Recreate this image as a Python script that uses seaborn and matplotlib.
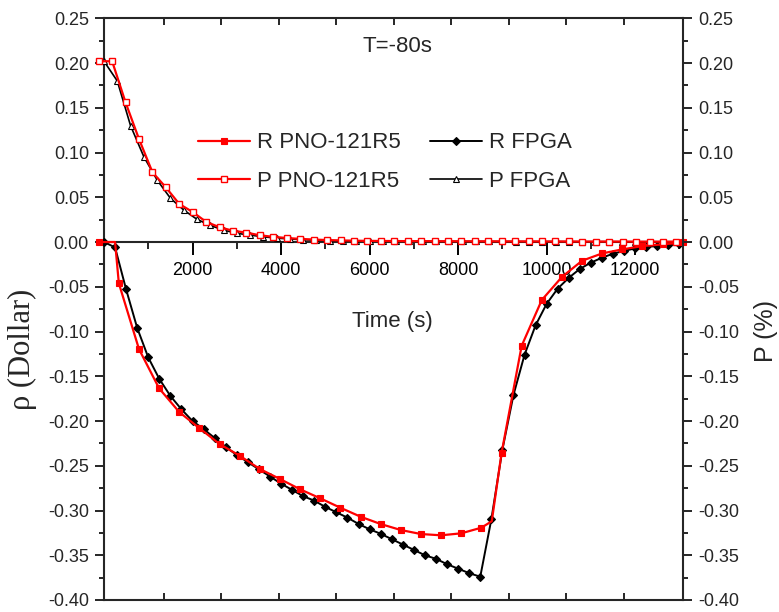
import numpy as np
import pandas as pd
import matplotlib
matplotlib.use("Agg")
import matplotlib.pyplot as plt
from matplotlib.ticker import FixedLocator
from matplotlib import font_manager as fm
import seaborn as sns

# ---------------- data ----------------
t_r_pno = [-120, 250, 335, 790, 1245, 1700, 2155, 2610, 3065, 3520, 3975, 4430,
           4885, 5340, 5795, 6250, 6705, 7160, 7615, 8070, 8525, 8760, 8980,
           9435, 9890, 10345, 10800, 11255, 11710, 12165, 12620, 13075]
r_pno = [0.0, 0.0, -0.046, -0.1196, -0.1635, -0.190, -0.208, -0.2257, -0.2388,
         -0.2536, -0.2648, -0.2763, -0.2864, -0.2969, -0.3069, -0.3151, -0.3218,
         -0.3263, -0.3277, -0.3255, -0.3192, -0.312, -0.2361, -0.116, -0.0648,
         -0.039, -0.0209, -0.0127, -0.0082, -0.0045, -0.0026, -0.0005]
r_pno_marked = [i for i in range(len(t_r_pno)) if i not in (1, 21)]

t_r_fpga = [0, 250, 500, 750, 1000, 1250, 1500, 1750, 2000, 2250, 2500, 2750,
            3000, 3250, 3500, 3750, 4000, 4250, 4500, 4750, 5000, 5250, 5500,
            5750, 6000, 6250, 6500, 6750, 7000, 7250, 7500, 7750, 8000, 8250,
            8500, 8750, 9000, 9250, 9500, 9750, 10000, 10250, 10500, 10750,
            11000, 11250, 11500, 11750, 12000, 12250, 12500, 12750, 13000]
r_fpga = [0.0, -0.006, -0.053, -0.096, -0.129, -0.153, -0.172, -0.187, -0.200,
          -0.209, -0.219, -0.229, -0.238, -0.246, -0.254, -0.262, -0.270,
          -0.277, -0.284, -0.289, -0.296, -0.302, -0.308, -0.315, -0.321,
          -0.326, -0.332, -0.338, -0.344, -0.350, -0.354, -0.360, -0.365,
          -0.370, -0.374, -0.310, -0.232, -0.171, -0.126, -0.093, -0.069,
          -0.052, -0.040, -0.030, -0.023, -0.0175, -0.013, -0.010, -0.007,
          -0.006, -0.004, -0.003, -0.002]

t_p_pno = [-120, 184, 487, 791, 1094, 1398, 1701, 2005, 2308, 2612, 2915, 3219,
           3522, 3826, 4129, 4433, 4736, 5040, 5343, 5647, 5950, 6254, 6557,
           6861, 7164, 7468, 7771, 8075, 8378, 8682, 8985, 9289, 9592, 9896,
           10199, 10503, 10806, 11110, 11413, 11717, 12020, 12324, 12627, 12931]
p_pno = [0.202, 0.202, 0.156, 0.115, 0.078, 0.061, 0.0425, 0.0335, 0.0225,
         0.0165, 0.0126, 0.0105, 0.0075, 0.0058, 0.0045, 0.0035, 0.0028, 0.0022,
         0.0018, 0.0015, 0.0013, 0.0012, 0.0011, 0.0010, 0.0010, 0.0009, 0.0009,
         0.0008, 0.0008, 0.0008, 0.0007, 0.0007, 0.0007, 0.0006, 0.0006, 0.0006,
         0.0005, 0.0005, 0.0005, 0.0005, 0.0004, 0.0004, 0.0004, 0.0004]

t_p_fpga = [0, 300, 600, 900, 1200, 1500, 1800, 2100, 2400, 2700, 3000, 3300,
            3600, 3900, 4200, 4500, 4800, 5100, 5400, 5700, 6000, 6300, 6600,
            6900, 7200, 7500, 7800, 8100, 8400, 8700, 9000, 9300, 9600, 9900,
            10200, 10500, 10800, 11100, 11400, 11700, 12000, 12300, 12600, 12900]
p_fpga = [0.202, 0.180, 0.130, 0.0953, 0.0693, 0.049, 0.0358, 0.0254, 0.0185,
          0.0134, 0.0097, 0.0078, 0.0058, 0.0044, 0.0034, 0.0026, 0.0020, 0.0016,
          0.0013, 0.0011, 0.0010, 0.0009, 0.0009, 0.0008, 0.0008, 0.0007, 0.0007,
          0.0007, 0.0006, 0.0006, 0.0006, 0.0005, 0.0005, 0.0005, 0.0005, 0.0004,
          0.0004, 0.0004, 0.0004, 0.0003, 0.0003, 0.0003, 0.0003, 0.0003]

series_labels = ["R PNO-121R5", "R FPGA", "P PNO-121R5", "P FPGA"]

y_ticks = [0.25, 0.20, 0.15, 0.10, 0.05, 0.00, -0.05, -0.10, -0.15, -0.20,
           -0.25, -0.30, -0.35, -0.40]
y_tick_labels = ["0.25", "0.20", "0.15", "0.10", "0.05", "0.00", "-0.05",
                 "-0.10", "-0.15", "-0.20", "-0.25", "-0.30", "-0.35", "-0.40"]
y_minor = [0.225, 0.175, 0.125, 0.075, 0.025, -0.025, -0.075, -0.125, -0.175,
           -0.225, -0.275, -0.325, -0.375]
x_ticks = [2000, 4000, 6000, 8000, 10000, 12000]
x_tick_labels = ["2000", "4000", "6000", "8000", "10000", "12000"]
x_minor = [1000, 3000, 5000, 7000, 9000, 11000, 13000]
frame_ticks = [1345, 2645, 3945, 5245, 6545, 7845, 9145, 10445, 11745]

# ---------------- style ----------------
sns.set_style("ticks")
W, H, DPI = 779, 612, 100


def has_font(name):
    try:
        fm.findfont(fm.FontProperties(family=name), fallback_to_default=False)
        return True
    except Exception:
        return False


SANS = "Liberation Sans" if has_font("Liberation Sans") else "DejaVu Sans"
NARROW = "Liberation Sans Narrow" if has_font("Liberation Sans Narrow") else None
SERIF = "Liberation Serif" if has_font("Liberation Serif") else "DejaVu Serif"

plt.rcParams["font.family"] = [SANS, "DejaVu Sans"]
plt.rcParams["axes.unicode_minus"] = False

BIG_FAMILY = [NARROW, SANS] if NARROW else [SANS]
BIG = 20 if NARROW else 16

fig = plt.figure(figsize=(W / DPI, H / DPI), dpi=DPI)
fig.patch.set_facecolor("white")
L, R, T, B = 104, 683, 18.3, 600
ax = fig.add_axes([L / W, 1 - B / H, (R - L) / W, (B - T) / H])
ax.set_facecolor("white")

RED = "#ff0000"
# FPGA series first (behind), then PNO
sns.lineplot(x=t_r_fpga, y=r_fpga, ax=ax, color="black", linewidth=1.4,
             marker="D", markersize=4.2, markerfacecolor="black",
             markeredgecolor="black", markeredgewidth=0.8, sort=False,
             estimator=None, label=series_labels[1], clip_on=False, zorder=3)
sns.lineplot(x=t_p_fpga, y=p_fpga, ax=ax, color="black", linewidth=1.2,
             marker="^", markersize=5, markerfacecolor="white",
             markeredgecolor="black", markeredgewidth=0.8, sort=False,
             estimator=None, label=series_labels[3], clip_on=False, zorder=3)
sns.lineplot(x=t_r_pno, y=r_pno, ax=ax, color=RED, linewidth=1.6,
             marker="s", markersize=5, markerfacecolor=RED,
             markeredgecolor=RED, markeredgewidth=0.8, markevery=r_pno_marked,
             sort=False, estimator=None, label=series_labels[0],
             clip_on=False, zorder=4)
sns.lineplot(x=t_p_pno, y=p_pno, ax=ax, color=RED, linewidth=1.6,
             marker="s", markersize=4.6, markerfacecolor="white",
             markeredgecolor=RED, markeredgewidth=1.0, sort=False,
             estimator=None, label=series_labels[2], clip_on=False, zorder=4)

ax.set_xlim(0, 13080)
ax.set_ylim(-0.40, 0.25)
ax.set_xlabel("")
ax.set_ylabel("")

# x axis through zero
for s in ("top", "right"):
    ax.spines[s].set_visible(False)
ax.spines["bottom"].set_position(("data", 0))
for s in ("bottom", "left"):
    ax.spines[s].set_linewidth(1.5)
ax.xaxis.set_ticks_position("bottom")
ax.set_xticks(x_ticks)
ax.set_xticklabels(x_tick_labels)
ax.xaxis.set_minor_locator(FixedLocator(x_minor))
ax.tick_params(axis="x", which="major", direction="out", length=9, width=1.4,
               pad=5.5, labelsize=13, colors="black")
ax.tick_params(axis="x", which="minor", direction="out", length=5, width=1.4)

ax.set_yticks(y_ticks)
ax.set_yticklabels(y_tick_labels)
ax.yaxis.set_minor_locator(FixedLocator(y_minor))
ax.tick_params(axis="y", which="major", direction="out", length=6.5, width=1.4,
               pad=4.3, labelsize=13)
ax.tick_params(axis="y", which="minor", direction="out", length=3.8, width=1.4)

# right axis
ax2 = ax.twinx()
ax2.set_ylim(-0.40, 0.25)
for s in ("top", "bottom", "left"):
    ax2.spines[s].set_visible(False)
ax2.spines["right"].set_linewidth(1.5)
ax2.set_yticks(y_ticks)
ax2.set_yticklabels(y_tick_labels)
ax2.yaxis.set_minor_locator(FixedLocator(y_minor))
ax2.tick_params(axis="y", which="major", direction="out", length=6.5, width=1.4,
                pad=4.3, labelsize=13)
ax2.tick_params(axis="y", which="minor", direction="out", length=3.8, width=1.4)

# top / bottom frame
ax3 = ax.twiny()
ax3.set_xlim(0, 13080)
for s in ("left", "right"):
    ax3.spines[s].set_visible(False)
for s in ("top", "bottom"):
    ax3.spines[s].set_visible(True)
    ax3.spines[s].set_linewidth(1.5)
ax3.xaxis.set_ticks_position("both")
ax3.set_xticks(frame_ticks)
ax3.tick_params(axis="x", which="both", direction="in", length=5, width=1.4,
                labeltop=False, labelbottom=False)

# legend
handles, labs = ax.get_legend_handles_labels()
hmap = dict(zip(labs, handles))
order = [series_labels[0], series_labels[2], series_labels[1], series_labels[3]]
em = BIG * DPI / 72.0
leg = ax.legend([hmap[k] for k in order], order, ncol=2, frameon=False,
                loc="upper left", bbox_to_anchor=(198 / W, 1 - 132.5 / H),
                bbox_transform=fig.transFigure, borderpad=0, borderaxespad=0,
                handlelength=52 / em, handletextpad=7 / em,
                columnspacing=29 / em, labelspacing=0.77,
                prop=fm.FontProperties(family=BIG_FAMILY, size=BIG))

# texts
fig.text(397 / W, 1 - 46 / H, "T=-80s", ha="center", va="center",
         fontsize=BIG, family=BIG_FAMILY)
fig.text(392 / W, 1 - 322 / H, "Time (s)", ha="center", va="center",
         fontsize=BIG, family=BIG_FAMILY)
fig.text(22 / W, 1 - 349 / H, "\u03c1 (Dollar)", ha="center", va="center",
         rotation=90, fontsize=22, family=[SERIF, "DejaVu Serif"])
fig.text(766 / W, 1 - 331 / H, "P (%)", ha="center", va="center",
         rotation=90, fontsize=18, family=[SANS, "DejaVu Sans"])

fig.savefig("out.png", dpi=DPI, facecolor="white")
